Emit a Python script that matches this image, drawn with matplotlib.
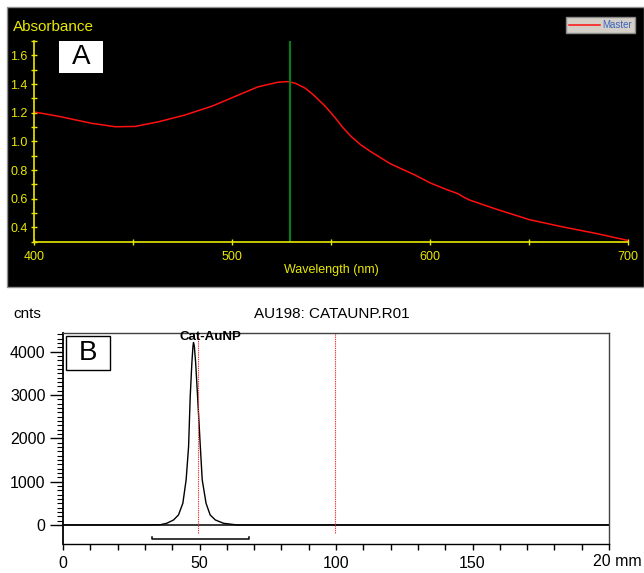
import matplotlib
matplotlib.use('Agg')
import matplotlib.pyplot as plt
from matplotlib.patches import Rectangle
from matplotlib.ticker import MultipleLocator, FixedLocator

plt.rcParams['font.family'] = ['Liberation Sans', 'DejaVu Sans']

# panel A : UV-vis spectrum
wavelength = [400, 412, 429, 441, 451, 463, 476, 490, 503, 513, 523, 528, 532, 537, 541,
              547, 552, 556, 560, 565, 570, 580, 592, 600, 608, 614, 617, 620, 634, 650,
              667, 684, 700]
absorbance = [1.205, 1.176, 1.126, 1.102, 1.104, 1.137, 1.183, 1.246, 1.322, 1.38, 1.412,
              1.417, 1.405, 1.37, 1.325, 1.245, 1.165, 1.095, 1.035, 0.975, 0.928, 0.843,
              0.767, 0.71, 0.665, 0.635, 0.61, 0.59, 0.524, 0.454, 0.403, 0.357, 0.308]
lambda_max = 529

# panel B : radio-TLC scan
pos_mm = [0, 30, 35.6, 38.0, 40.5, 42.3, 43.9, 45.1, 46.0, 46.6, 47.2, 47.6, 47.8, 48.1,
          48.6, 49.3, 50.3, 51.0, 52.4, 53.9, 55.8, 58.8, 63.7, 100, 200]
counts = [0, 0, 5, 38, 115, 231, 500, 1039, 1808, 2963, 3734, 4120, 4210, 4130, 3734,
          2963, 1808, 1039, 500, 231, 115, 38, 0, 0, 0]
markers_mm = [49.5, 99.5]
region_mm = [32.5, 68.0]

W, H = 644, 573
fig = plt.figure(figsize=(W / 100, H / 100), dpi=100)
fig.patch.set_facecolor('white')

def fx(px):
    return px / W

def fy(py):
    return 1 - py / H

yellow = '#e8e800'

# black background of panel A
fig.patches.append(Rectangle((fx(7), fy(287)), fx(637), 280 / H, transform=fig.transFigure,
                             facecolor='black', edgecolor='#909090', lw=1, zorder=-10))

axA = fig.add_axes([fx(34), fy(241.7), fx(628.3 - 34), (241.7 - 41) / H])
axA.set_facecolor('black')
axA.plot(wavelength, absorbance, color='#ff1010', lw=1.1, label='Master')
axA.axvline(lambda_max, color='#0b7a1e', lw=1.6)
axA.set_xlim(400, 700)
axA.set_ylim(0.3, 1.7)
axA.xaxis.set_major_locator(FixedLocator([400, 500, 600, 700]))
axA.xaxis.set_minor_locator(MultipleLocator(50))
axA.yaxis.set_major_locator(FixedLocator([0.4, 0.6, 0.8, 1.0, 1.2, 1.4, 1.6]))
axA.yaxis.set_minor_locator(MultipleLocator(0.1))
for s in ['top', 'right']:
    axA.spines[s].set_visible(False)
for s in ['left', 'bottom']:
    axA.spines[s].set_color(yellow)
    axA.spines[s].set_linewidth(1.2)
axA.tick_params(which='both', colors=yellow, direction='inout', labelsize=9, width=1)
axA.tick_params(which='major', length=5)
axA.tick_params(which='minor', length=4)
axA.tick_params(axis='x', pad=4)
axA.tick_params(axis='y', pad=2)
axA.set_xlabel('Wavelength (nm)', color=yellow, fontsize=9, labelpad=1)
fig.text(fx(13), fy(27), 'Absorbance', color=yellow, fontsize=11, ha='left', va='center')

fig.patches.append(Rectangle((fx(59.5), fy(73.3)), fx(44), 32.3 / H, transform=fig.transFigure,
                             facecolor='white', edgecolor='none', zorder=3))
fig.text(fx(81.5), fy(57.5), 'A', fontsize=20, ha='center', va='center', zorder=4)

leg = axA.legend(loc='upper right', bbox_to_anchor=(fx(635), fy(17)),
                 bbox_transform=fig.transFigure, fontsize=7, frameon=True,
                 fancybox=False, framealpha=1, handlelength=3.2, handletextpad=0.2,
                 borderpad=0.3, borderaxespad=0)
leg.get_frame().set_facecolor('#d4d0c8')
leg.get_frame().set_edgecolor('#8a8a8a')
for t in leg.get_texts():
    t.set_color('#3a62c0')

# panel B
axB = fig.add_axes([fx(63), fy(544), fx(609 - 63), (544 - 333) / H])
axB.plot(pos_mm, counts, color='black', lw=1)
axB.axhline(0, color='black', lw=1.1)
ytop = 4430
for m in markers_mm:
    axB.vlines(m, -192, ytop, colors='#f03838', linestyles=(0, (1.2, 0.8)), lw=0.8)
axB.plot([region_mm[0], region_mm[0], region_mm[1], region_mm[1]],
         [-270, -330, -330, -270], color='black', lw=1.1)
axB.set_xlim(0, 200)
axB.set_ylim(-440, ytop)
axB.xaxis.set_major_locator(FixedLocator([0, 50, 100, 150, 200]))
axB.xaxis.set_minor_locator(MultipleLocator(10))
axB.set_xticklabels(['0', '50', '100', '150', ''])
axB.yaxis.set_major_locator(FixedLocator([0, 1000, 2000, 3000, 4000]))
axB.yaxis.set_minor_locator(FixedLocator(list(range(100, 4401, 100))))
axB.tick_params(axis='y', which='major', length=9.5, width=1, labelsize=11.5, pad=3)
axB.tick_params(axis='y', which='minor', length=4.5, width=0.8)
axB.tick_params(axis='x', which='both', length=4.5, width=1, labelsize=11.5, pad=4)
for s in axB.spines.values():
    s.set_linewidth(1)
axB.spines['left'].set_linewidth(1.3)
axB.spines['top'].set_color('#404040')
axB.spines['right'].set_color('#404040')
axB.text(194, -0.047, '20 mm', transform=axB.get_xaxis_transform(), ha='left', va='top',
         fontsize=11.5)
axB.text(54.1, 4335, 'Cat-AuNP', fontsize=9.5, fontweight='bold', ha='center', va='center')

fig.text(fx(13), fy(314), 'cnts', fontsize=11, ha='left', va='center')
fig.text(fx(332), fy(314), 'AU198: CATAUNP.R01', fontsize=11, ha='center', va='center')

fig.patches.append(Rectangle((fx(66), fy(370)), fx(44), 34 / H, transform=fig.transFigure,
                             facecolor='white', edgecolor='black', lw=1, zorder=3))
fig.text(fx(88), fy(353), 'B', fontsize=20, ha='center', va='center', zorder=4)

fig.savefig('out.png', dpi=100)
